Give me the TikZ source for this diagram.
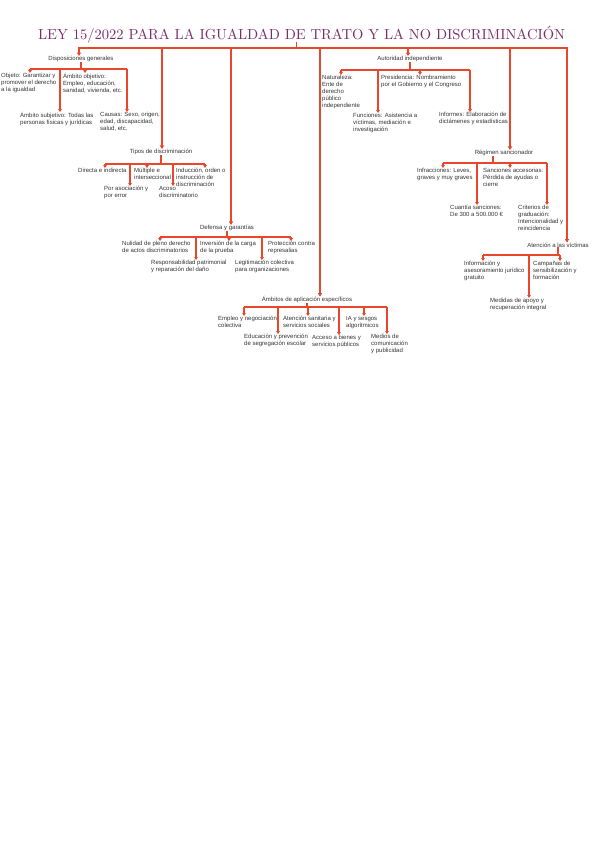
\documentclass[tikz,border=0pt]{standalone}
\usepackage{fontspec}
\newfontfamily\bodyfont{Liberation Sans}
\usetikzlibrary{arrows.meta,calc}
\definecolor{lred}{HTML}{E8472B}
\definecolor{ttl}{HTML}{7B2C6A}
\definecolor{txtc}{HTML}{333333}
\newcommand\kidnode[6]{%
  \node[kid] (#1) at (#4,#5) {#6};
  \coordinate (#1a) at (#2,#3);
  \draw[arr] (#1a) -- (#1a |- #1.north);
}
\begin{document}
\begin{tikzpicture}[x=1pt,y=-1pt,
  kid/.style={font=\bodyfont\fontsize{6}{7}\selectfont, text=txtc, inner sep=0pt, align=left, anchor=north west},
  head/.style={font=\bodyfont\fontsize{6}{7}\selectfont, text=txtc, inner sep=0pt, anchor=center},
  ln/.style={draw=lred, line width=1.3pt},
  arr/.style={ln, -{Triangle[length=3pt,width=3.6pt]}},
  trunk/.style={draw=lred, line width=1.8pt, -{Triangle[length=3.5pt,width=4.2pt]}},
]
\useasboundingbox (0,0) rectangle (600,848);

% title
\node[font=\rmfamily, text=ttl, inner sep=0pt, anchor=base] (title) at (301.5,40)
  {\resizebox{527pt}{!}{LEY 15/2022 PARA LA IGUALDAD DE TRATO Y LA NO DISCRIMINACIÓN}};
\coordinate (tb) at (296,48);
\coordinate (ts) at (296,42);
\draw[draw=lred, line width=0.8pt] (ts) -- (tb);

% main bar and trunks
\coordinate (b1) at (79,47);
\coordinate (b2) at (162,47);
\coordinate (b3) at (231,47);
\coordinate (b4) at (320,47);
\coordinate (b5) at (408,47);
\coordinate (b6) at (510,47);
\coordinate (b7) at (567,47);
\draw[draw=lred, line width=2.4pt] ($(b1)+(-0.9,1)$) -- ($(b7)+(0.9,1)$);

% heads
\node[head] (dg) at (81,59) {Disposiciones generales};
\node[head] (td) at (161,152) {Tipos de discriminación};
\node[head] (dy) at (227,228) {Defensa y garantías};
\node[head] (ae) at (307,300) {Ámbitos de aplicación específicos};
\node[head] (ai) at (410,59) {Autoridad independiente};
\node[head] (rs) at (504,153) {Régimen sancionador};
\node[head] (av) at (558,245) {Atención a las víctimas};

\draw[trunk] (b1) -- (b1 |- dg.north);
\draw[trunk] (b2) -- (b2 |- td.north);
\draw[trunk] (b3) -- (b3 |- dy.north);
\draw[trunk] (b4) -- (b4 |- ae.north);
\draw[trunk] (b5) -- (b5 |- ai.north);
\draw[trunk] (b6) -- (b6 |- rs.north);
\draw[trunk] (b7) -- (b7 |- av.north);

% ---- Disposiciones generales
\coordinate (dgL) at (30,69); \coordinate (dgR) at (127,69);
\draw[ln] (dgL) -- (dgR);
\draw[ln] (dg.south) -- (dg.south |- dgL);
\kidnode{k11}{30}{69}{1}{73}{Objeto: Garantizar y\\promover el derecho\\a la igualdad}
\kidnode{k12}{85}{69}{63}{73}{Ámbito objetivo:\\Empleo, educación,\\sanidad, vivienda, etc.}
\kidnode{k13}{60}{69}{20}{112}{Ámbito subjetivo: Todas las\\personas físicas y jurídicas}
\kidnode{k14}{127}{69}{100}{112}{Causas: Sexo, origen,\\edad, discapacidad,\\salud, etc.}

% ---- Tipos de discriminación
\coordinate (tdL) at (105,164); \coordinate (tdR) at (205,164);
\draw[ln] (tdL) -- (tdR);
\draw[ln] (td.south) -- (td.south |- tdL);
\kidnode{k21}{105}{164}{78}{168}{Directa e indirecta}
\kidnode{k22}{130}{164}{104}{186}{Por asociación y\\por error}
\kidnode{k23}{147}{164}{134}{168}{Múltiple e\\interseccional}
\kidnode{k24}{173}{164}{159}{186}{Acoso\\discriminatorio}
\kidnode{k25}{205}{164}{176}{168}{Inducción, orden o\\instrucción de\\discriminación}

% ---- Defensa y garantías
\coordinate (dyL) at (160,237); \coordinate (dyR) at (291,237);
\draw[ln] (dyL) -- (dyR);
\draw[ln] (dy.south) -- (dy.south |- dyL);
\kidnode{k31}{160}{237}{122}{241}{Nulidad de pleno derecho\\de actos discriminatorios}
\kidnode{k32}{196}{237}{151}{260}{Responsabilidad patrimonial\\y reparación del daño}
\kidnode{k33}{229}{237}{200}{241}{Inversión de la carga\\de la prueba}
\kidnode{k34}{262}{237}{235}{260}{Legitimación colectiva\\para organizaciones}
\kidnode{k35}{291}{237}{268}{241}{Protección contra\\represalias}

% ---- Ámbitos de aplicación específicos
\coordinate (aeL) at (244,307); \coordinate (aeR) at (387,307);
\draw[ln] (aeL) -- (aeR);
\draw[ln] (ae.south) -- (ae.south |- aeL);
\kidnode{k41}{244}{307}{218}{316}{Empleo y negociación\\colectiva}
\kidnode{k42}{278}{307}{244}{334}{Educación y prevención\\de segregación escolar}
\kidnode{k43}{308}{307}{283}{316}{Atención sanitaria y\\servicios sociales}
\kidnode{k44}{339}{307}{312}{335}{Acceso a bienes y\\servicios públicos}
\kidnode{k45}{364}{307}{346}{316}{IA y sesgos\\algorítmicos}
\kidnode{k46}{387}{307}{371}{334}{Medios de\\comunicación\\y publicidad}

% ---- Autoridad independiente
\coordinate (aiL) at (341,70); \coordinate (aiR) at (470,70);
\draw[ln] (aiL) -- (aiR);
\draw[ln] (ai.south) -- (ai.south |- aiL);
\kidnode{k51}{341}{70}{322}{75}{Naturaleza:\\Ente de\\derecho\\público\\independiente}
\kidnode{k52}{420}{70}{381}{75}{Presidencia: Nombramiento\\por el Gobierno y el Congreso}
\kidnode{k53}{378}{70}{353}{113}{Funciones: Asistencia a\\víctimas, mediación e\\investigación}
\kidnode{k54}{470}{70}{439}{112}{Informes: Elaboración de\\dictámenes y estadísticas}

% ---- Régimen sancionador
\coordinate (rsL) at (443,163); \coordinate (rsR) at (547,163);
\coordinate (rsS) at (493,163);
\draw[ln] (rsL) -- (rsR);
\draw[ln] (rsS |- rs.south) -- (rsS);
\kidnode{k61}{443}{163}{417}{168}{Infracciones: Leves,\\graves y muy graves}
\kidnode{k62}{510}{163}{483}{168}{Sanciones accesorias:\\Pérdida de ayudas o\\cierre}
\kidnode{k63}{477}{163}{450}{205}{Cuantía sanciones:\\De 300 a 500.000 €}
\kidnode{k64}{547}{163}{518}{205}{Criterios de\\graduación:\\Intencionalidad y\\reincidencia}

% ---- Atención a las víctimas
\coordinate (avL) at (483,255); \coordinate (avR) at (560,255);
\draw[ln] (avL) -- (avR);
\draw[ln] (av.south) -- (av.south |- avL);
\kidnode{k71}{483}{255}{464}{261}{Información y\\asesoramiento jurídico\\gratuito}
\kidnode{k72}{560}{255}{533}{261}{Campañas de\\sensibilización y\\formación}
\kidnode{k73}{529}{255}{490}{298}{Medidas de apoyo y\\recuperación integral}
\end{tikzpicture}
\end{document}
